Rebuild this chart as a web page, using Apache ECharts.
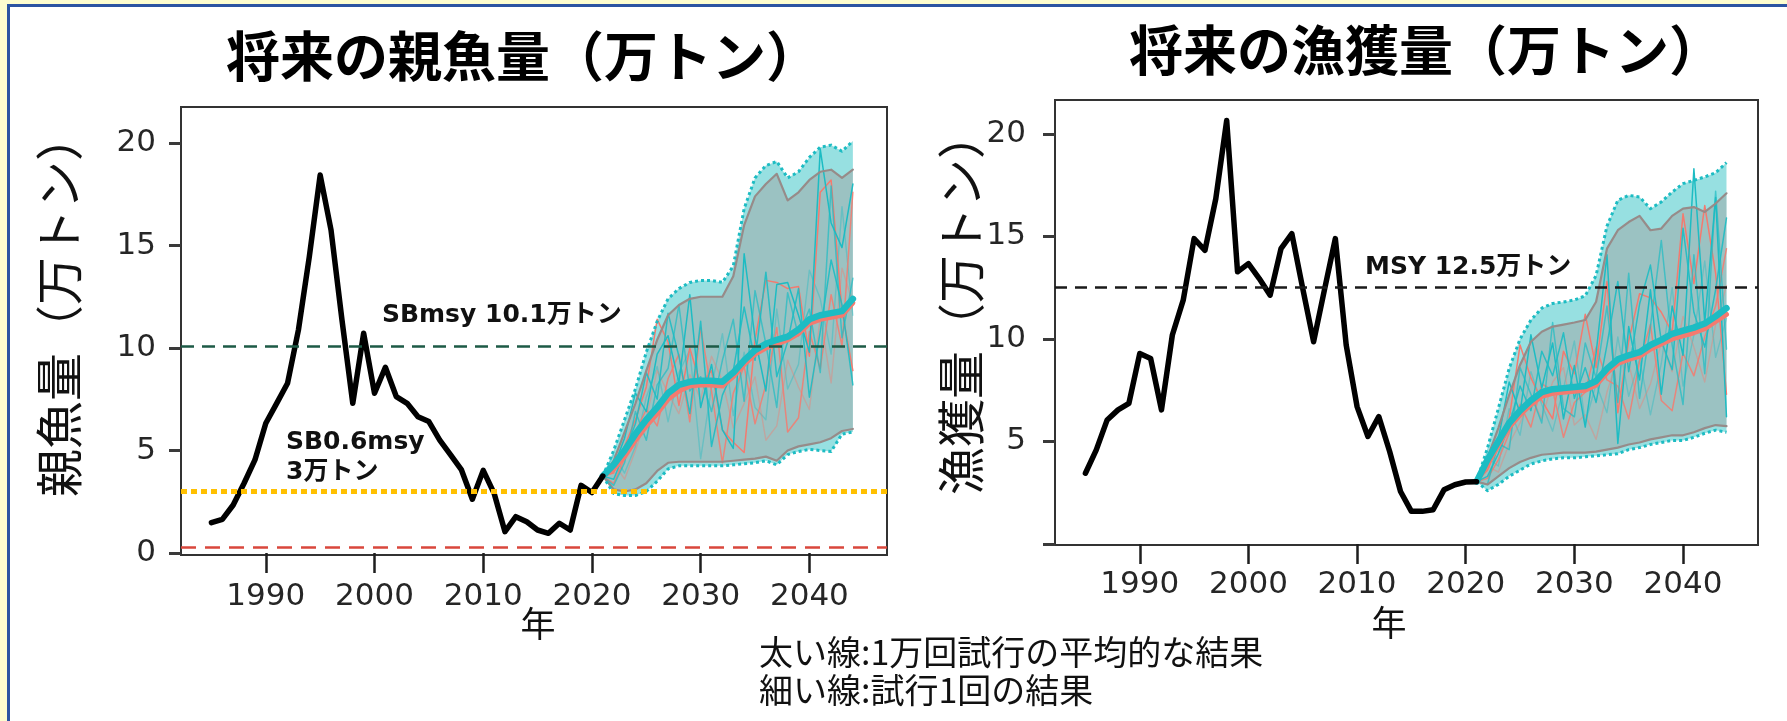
<!DOCTYPE html>
<html>
<head>
<meta charset="utf-8">
<script src="https://cdn.jsdelivr.net/npm/echarts@6/dist/echarts.min.js"></script>
<style>
  html, body { margin: 0; padding: 0; background: #ffffff; }
  #chart { width: 1787px; height: 721px; }
</style>
</head>
<body>
<div id="chart"></div>
<script>
// ---- Years ----
const histYears = [];
for (let y = 1985; y <= 2021; y++) histYears.push(y);
const projYears = [];
for (let y = 2021; y <= 2044; y++) projYears.push(y);
const xTickValues = [1990, 2000, 2010, 2020, 2030, 2040];
const yTickValues = [0, 5, 10, 15, 20];
const yLabelValuesRight = [5, 10, 15, 20];

// ---- Reference points (万トン) ----
const sbMsy = 10.1;
const sbLimit = 3;
const sbBan = 0.3;
const msy = 12.5;

// ---- 親魚量 (spawning biomass), 万トン ----
const sbHist = [1.48, 1.64, 2.34, 3.4, 4.54, 6.33, 7.3, 8.28, 10.88, 14.45, 18.44, 15.76, 11.4, 7.3, 10.72,
  7.79, 9.06, 7.63, 7.3, 6.65, 6.41, 5.51, 4.78, 4.05, 2.62, 4.03, 2.91, 1.04, 1.77, 1.52, 1.12, 0.96,
  1.45, 1.12, 3.3, 2.95, 3.75];
const sbUpperOuter = [3.75, 5.0, 6.5, 8.0, 9.8, 11.3, 12.4, 12.9, 13.2, 13.3, 13.3, 13.2, 14.0, 16.8, 18.3, 18.9, 19.1, 18.3, 18.6, 19.3, 19.8, 19.9, 19.6, 20.1];
const sbUpperInner = [3.75, 4.5, 5.9, 7.3, 8.9, 10.4, 11.6, 12.1, 12.4, 12.5, 12.5, 12.5, 13.5, 16.0, 17.4, 18.0, 18.5, 17.2, 17.6, 18.2, 18.6, 18.7, 18.3, 18.7];
const sbLowerInner = [3.75, 3.1, 3.0, 3.1, 3.4, 4.0, 4.4, 4.45, 4.45, 4.45, 4.45, 4.45, 4.5, 4.55, 4.6, 4.7, 4.5, 5.0, 5.2, 5.3, 5.4, 5.6, 5.95, 6.05];
const sbLowerOuter = [3.75, 2.9, 2.8, 2.8, 3.0, 3.5, 4.1, 4.25, 4.25, 4.25, 4.25, 4.25, 4.3, 4.35, 4.4, 4.5, 4.3, 4.8, 4.95, 5.05, 5.0, 4.95, 5.8, 5.9];
const sbMeanA = [3.75, 4.3, 5.0, 5.8, 6.5, 7.1, 7.8, 8.2, 8.35, 8.4, 8.4, 8.35, 8.8, 9.4, 9.9, 10.2, 10.4, 10.55, 10.9, 11.4, 11.6, 11.7, 11.8, 12.4];
const sbMeanB = [3.75, 4.1, 4.7, 5.5, 6.2, 6.8, 7.5, 7.9, 8.15, 8.2, 8.2, 8.15, 8.6, 9.2, 9.7, 10.0, 10.2, 10.4, 10.7, 11.2, 11.4, 11.5, 11.6, 12.2];
const sbTrialA1 = [3.75, 4.2, 5.6, 7.8, 6.9, 9.7, 10.6, 8.3, 12.6, 7.1, 9.2, 6.0, 5.1, 14.6, 10.5, 7.9, 13.1, 13.2, 11.6, 9.8, 19.7, 16.1, 14.9, 18.0];
const sbTrialA2 = [3.75, 3.6, 4.9, 6.3, 8.8, 7.5, 11.7, 9.6, 6.8, 11.3, 5.2, 7.7, 8.9, 12.0, 9.4, 13.7, 8.6, 10.3, 12.9, 7.6, 10.8, 14.3, 12.1, 8.2];
const sbTrialA3 = [3.75, 4.8, 3.9, 5.2, 7.6, 9.1, 6.4, 8.8, 9.9, 4.6, 8.1, 10.7, 6.7, 9.8, 7.1, 6.5, 11.9, 8.0, 9.2, 13.8, 12.4, 9.7, 16.9, 11.6];
const sbTrialA4 = [3.75, 3.3, 4.4, 6.9, 5.5, 8.2, 9.0, 12.1, 7.9, 8.6, 6.9, 9.4, 11.4, 7.4, 12.8, 10.2, 7.1, 12.7, 10.6, 11.9, 8.8, 17.9, 10.5, 13.4];
const sbTrialB1 = [3.75, 3.9, 5.2, 6.5, 8.1, 11.4, 10.3, 7.2, 10.0, 8.2, 8.9, 6.0, 5.4, 4.9, 10.4, 13.3, 13.2, 12.9, 13.0, 9.6, 17.6, 18.2, 11.8, 8.9];
const sbTrialB2 = [3.75, 3.4, 4.6, 5.9, 7.0, 6.2, 8.5, 9.7, 6.4, 11.0, 7.9, 4.4, 7.8, 9.1, 6.3, 8.2, 11.0, 5.9, 6.6, 10.8, 9.0, 12.6, 10.1, 17.6];
const sbTrialB3 = [3.75, 4.4, 3.6, 5.0, 6.6, 8.9, 7.8, 6.8, 8.7, 7.5, 9.6, 8.4, 6.1, 7.3, 8.6, 5.5, 6.2, 9.4, 8.1, 7.0, 11.5, 8.3, 13.9, 12.2];

// ---- 漁獲量 (catch), 万トン ----
const catchHist = [3.45, 4.59, 6.05, 6.54, 6.86, 9.29, 9.05, 6.54, 10.19, 11.89, 14.89, 14.32, 16.84, 20.65,
  13.27, 13.67, 12.94, 12.13, 14.4, 15.13, 12.46, 9.86, 12.4, 14.89, 9.7, 6.7, 5.24, 6.21, 4.51, 2.56,
  1.59, 1.59, 1.67, 2.64, 2.89, 3.02, 3.04];
const catchUpperOuter = [3.04, 4.67, 6.6, 8.56, 9.99, 10.92, 11.5, 11.73, 11.8, 11.9, 12.1, 13.1, 15.5, 16.76, 17.0, 16.92, 16.35, 16.68, 17.16, 17.57, 17.73, 17.9, 18.1, 18.6];
const catchUpperInner = [3.04, 4.2, 5.65, 7.27, 8.73, 9.86, 10.35, 10.6, 10.7, 10.8, 10.92, 11.81, 14.4, 15.3, 15.7, 16.0, 15.3, 15.38, 16.0, 16.35, 16.43, 16.19, 16.6, 17.1];
const catchLowerInner = [3.04, 2.9, 3.3, 3.7, 4.0, 4.2, 4.35, 4.4, 4.45, 4.45, 4.45, 4.5, 4.6, 4.7, 4.85, 4.95, 5.1, 5.2, 5.3, 5.3, 5.45, 5.65, 5.8, 5.75];
const catchLowerOuter = [3.04, 2.6, 2.9, 3.3, 3.6, 3.9, 4.05, 4.15, 4.2, 4.2, 4.25, 4.3, 4.35, 4.4, 4.6, 4.7, 4.85, 4.95, 5.05, 5.05, 5.2, 5.4, 5.55, 5.45];
const catchMeanA = [3.04, 4.1, 5.0, 5.9, 6.5, 7.0, 7.4, 7.55, 7.6, 7.65, 7.7, 7.95, 8.55, 9.0, 9.2, 9.35, 9.7, 9.95, 10.25, 10.4, 10.55, 10.75, 11.1, 11.5];
const catchMeanB = [3.04, 3.9, 4.8, 5.7, 6.3, 6.8, 7.2, 7.35, 7.4, 7.45, 7.5, 7.75, 8.35, 8.8, 9.0, 9.15, 9.5, 9.75, 10.0, 10.15, 10.3, 10.5, 10.85, 11.2];
const catchTrialA1 = [3.04, 3.9, 5.1, 7.9, 6.4, 10.2, 7.6, 9.8, 6.1, 8.7, 5.7, 9.3, 14.1, 4.9, 10.6, 8.0, 12.4, 7.3, 11.6, 9.2, 18.3, 10.8, 16.9, 6.2];
const catchTrialA2 = [3.04, 3.3, 4.4, 5.8, 7.7, 6.5, 9.4, 8.2, 10.3, 7.1, 8.6, 6.9, 9.7, 12.8, 8.4, 11.7, 13.6, 9.9, 8.5, 15.4, 11.3, 9.6, 12.4, 15.9];
const catchTrialA3 = [3.04, 4.2, 3.8, 6.6, 5.3, 8.4, 6.8, 5.5, 7.6, 9.9, 5.9, 7.8, 6.4, 10.1, 7.2, 9.0, 6.3, 8.8, 12.5, 7.7, 10.2, 13.8, 9.1, 11.0];
const catchTrialA4 = [3.04, 2.9, 4.9, 4.6, 8.6, 7.3, 5.9, 10.8, 6.6, 6.2, 9.8, 8.1, 11.6, 6.9, 13.2, 7.1, 10.6, 14.8, 9.7, 6.8, 14.1, 8.3, 17.2, 9.5];
const catchTrialB1 = [3.04, 3.6, 4.8, 6.1, 9.7, 8.1, 7.0, 6.1, 9.4, 8.3, 11.2, 8.6, 12.8, 6.4, 9.9, 12.2, 12.0, 11.3, 10.3, 16.1, 12.7, 16.5, 13.2, 7.3];
const catchTrialB2 = [3.04, 3.2, 4.1, 5.4, 6.8, 5.7, 7.8, 7.5, 5.2, 6.9, 7.4, 9.6, 8.0, 7.7, 6.1, 8.9, 10.7, 7.0, 6.5, 9.3, 8.2, 10.1, 11.6, 14.4];
const catchTrialB3 = [3.04, 3.8, 3.5, 4.9, 5.9, 7.2, 6.1, 7.9, 8.6, 5.8, 6.3, 5.1, 7.4, 9.1, 8.8, 6.6, 7.8, 9.8, 8.4, 11.1, 9.6, 7.9, 10.7, 12.6];

// ---- Colours & fonts ----
const TEAL = '#1dbcc3';
const SALMON = '#f47a6f';
const OUTER_FILL = '#97e0e1';
const INNER_FILL = 'rgba(162,152,152,0.42)';
const EDGE_GREY = '#978b89';
const TICK_FONT = "'DejaVu Sans', sans-serif";
const JP_FONT = "'Noto Sans CJK JP', sans-serif";
const LATIN_BOLD = "'DejaVu Sans', 'Noto Sans CJK JP', sans-serif";

function pairs(xs, ys) { return xs.map((x, i) => [x, ys[i]]); }

// filled band between two bounds, drawn as one polygon through the axis scales
function band(idx, lo, hi, fill) {
  return {
    type: 'custom', xAxisIndex: idx, yAxisIndex: idx, silent: true, clip: true,
    data: projYears.map((y, i) => [y, lo[i], hi[i]]),
    encode: { x: 0, y: [1, 2] },
    renderItem: (params, api) => {
      if (params.dataIndex !== 0) return null;
      const top = projYears.map((y, i) => api.coord([y, hi[i]]));
      const bot = projYears.map((y, i) => api.coord([y, lo[i]])).reverse();
      return { type: 'polygon', shape: { points: top.concat(bot) }, style: { fill: fill } };
    }
  };
}

function line(idx, xs, ys, style, extra) {
  return Object.assign({
    type: 'line', xAxisIndex: idx, yAxisIndex: idx, silent: true,
    data: pairs(xs, ys), showSymbol: false, symbol: 'none',
    lineStyle: Object.assign({ join: 'round', cap: 'round' }, style)
  }, extra || {});
}

function refLine(value, color, width, dash) {
  return { yAxis: value, lineStyle: { color: color, width: width, type: dash, cap: 'butt' } };
}

function panelSeries(idx, d) {
  return [
    band(idx, d.lo1, d.hi1, OUTER_FILL),
    line(idx, projYears, d.a3, { color: TEAL, width: 1.4, opacity: 0.4 }),
    line(idx, projYears, d.b3, { color: SALMON, width: 1.4, opacity: 0.4 }),
    band(idx, d.lo2, d.hi2, INNER_FILL),
    line(idx, projYears, d.b1, { color: SALMON, width: 1.5 }),
    line(idx, projYears, d.b2, { color: SALMON, width: 1.5, opacity: 0.85 }),
    line(idx, projYears, d.a1, { color: TEAL, width: 1.5 }),
    line(idx, projYears, d.a2, { color: TEAL, width: 1.5, opacity: 0.9 }),
    line(idx, projYears, d.a4, { color: TEAL, width: 1.5, opacity: 0.7 }),
    line(idx, projYears, d.hi2, { color: EDGE_GREY, width: 2.2 }),
    line(idx, projYears, d.lo2, { color: EDGE_GREY, width: 2.2 }),
    line(idx, projYears, d.hi1, { color: TEAL, width: 3, type: [3, 3], cap: 'butt' }),
    line(idx, projYears, d.lo1, { color: TEAL, width: 3, type: [3, 3], cap: 'butt' }),
    line(idx, projYears, d.meanB, { color: SALMON, width: 5 }),
    line(idx, projYears, d.meanA, { color: TEAL, width: 6.5 }),
    line(idx, histYears, d.hist, { color: '#000000', width: 5.5 }, {
      markLine: { silent: true, symbol: 'none', label: { show: false }, animation: false, data: d.refs }
    })
  ];
}

const plain = v => String(v);

const xAxisBase = {
  type: 'value', min: 1982.2, splitLine: { show: false },
  axisLine: { show: false },
  axisTick: { show: true, length: 20, lineStyle: { color: '#1e1e1e', width: 2.5 }, customValues: xTickValues },
  axisLabel: { margin: 26, fontSize: 31, color: '#262626', fontFamily: TICK_FONT, customValues: xTickValues, formatter: plain }
};

const yAxisBase = {
  type: 'value', splitLine: { show: false },
  axisLine: { show: false },
  axisTick: { show: true, length: 12, lineStyle: { color: '#3a3a3a', width: 3 }, customValues: yTickValues }
};

const option = {
  animation: false,
  backgroundColor: '#ffffff',
  grid: [
    { left: 181, top: 107, width: 706, height: 448, show: true, borderColor: '#333333', borderWidth: 2, backgroundColor: 'transparent', containLabel: false, outerBoundsMode: 'none' },
    { left: 1055, top: 100, width: 703, height: 445, show: true, borderColor: '#333333', borderWidth: 2, backgroundColor: 'transparent', containLabel: false, outerBoundsMode: 'none' }
  ],
  xAxis: [
    Object.assign({}, xAxisBase, { gridIndex: 0, max: 2047.14 }),
    Object.assign({}, xAxisBase, { gridIndex: 1, max: 2046.9, axisLabel: Object.assign({}, xAxisBase.axisLabel, { margin: 24 }) })
  ],
  yAxis: [
    Object.assign({}, yAxisBase, {
      gridIndex: 0, min: -0.1, max: 21.76,
      axisLabel: { margin: 25, fontSize: 31, color: '#262626', fontFamily: TICK_FONT, customValues: yTickValues, formatter: plain }
    }),
    Object.assign({}, yAxisBase, {
      gridIndex: 1, min: -0.05, max: 21.65,
      axisLabel: { margin: 29, fontSize: 31, color: '#262626', fontFamily: TICK_FONT, customValues: yLabelValuesRight, formatter: plain }
    })
  ],
  series: [].concat(
    panelSeries(0, {
      lo1: sbLowerOuter, hi1: sbUpperOuter, lo2: sbLowerInner, hi2: sbUpperInner,
      a1: sbTrialA1, a2: sbTrialA2, a3: sbTrialA3, a4: sbTrialA4,
      b1: sbTrialB1, b2: sbTrialB2, b3: sbTrialB3,
      meanA: sbMeanA, meanB: sbMeanB, hist: sbHist,
      refs: [
        refLine(sbMsy, '#1d5a46', 2.5, [13, 8]),
        refLine(sbLimit, '#ffc000', 5, [6, 4]),
        refLine(sbBan, '#d9473c', 2.5, [15, 9])
      ]
    }),
    panelSeries(1, {
      lo1: catchLowerOuter, hi1: catchUpperOuter, lo2: catchLowerInner, hi2: catchUpperInner,
      a1: catchTrialA1, a2: catchTrialA2, a3: catchTrialA3, a4: catchTrialA4,
      b1: catchTrialB1, b2: catchTrialB2, b3: catchTrialB3,
      meanA: catchMeanA, meanB: catchMeanB, hist: catchHist,
      refs: [refLine(msy, '#1a1a1a', 2.5, [12, 8])]
    })
  ),
  graphic: [
    // page frame
    { type: 'rect', shape: { x: 0, y: 0, width: 1787, height: 4 }, style: { fill: '#fdfdcf' }, silent: true },
    { type: 'rect', shape: { x: 0, y: 0, width: 7, height: 721 }, style: { fill: '#fdfdcf' }, silent: true },
    { type: 'rect', shape: { x: 7, y: 4, width: 1780, height: 3 }, style: { fill: '#2c54a2' }, silent: true },
    { type: 'rect', shape: { x: 7, y: 4, width: 3, height: 717 }, style: { fill: '#2c54a2' }, silent: true },
    // titles
    { type: 'text', x: 523, y: 56, silent: true, style: { text: '将来の親魚量（万トン）', font: 'bold 54px ' + JP_FONT, fill: '#000', textAlign: 'center', textVerticalAlign: 'middle' } },
    { type: 'text', x: 1426, y: 50, silent: true, style: { text: '将来の漁獲量（万トン）', font: 'bold 54px ' + JP_FONT, fill: '#000', textAlign: 'center', textVerticalAlign: 'middle' } },
    // axis names
    { type: 'text', x: 59, y: 305, rotation: Math.PI / 2, silent: true, style: { text: '親魚量（万トン）', font: '48px ' + JP_FONT, fill: '#111', textAlign: 'center', textVerticalAlign: 'middle' } },
    { type: 'text', x: 961, y: 303, rotation: Math.PI / 2, silent: true, style: { text: '漁獲量（万トン）', font: '48px ' + JP_FONT, fill: '#111', textAlign: 'center', textVerticalAlign: 'middle' } },
    { type: 'text', x: 538, y: 624, silent: true, style: { text: '年', font: '35px ' + JP_FONT, fill: '#111', textAlign: 'center', textVerticalAlign: 'middle' } },
    { type: 'text', x: 1389, y: 623, silent: true, style: { text: '年', font: '35px ' + JP_FONT, fill: '#111', textAlign: 'center', textVerticalAlign: 'middle' } },
    // reference point labels
    { type: 'text', x: 382, y: 315, silent: true, style: { text: 'SBmsy ' + sbMsy + '万トン', font: 'bold 25px ' + LATIN_BOLD, fill: '#111', textAlign: 'left', textVerticalAlign: 'middle' } },
    { type: 'text', x: 286, y: 442, silent: true, style: { text: 'SB0.6msy', font: 'bold 25px ' + LATIN_BOLD, fill: '#111', textAlign: 'left', textVerticalAlign: 'middle' } },
    { type: 'text', x: 286, y: 472, silent: true, style: { text: sbLimit + '万トン', font: 'bold 25px ' + LATIN_BOLD, fill: '#111', textAlign: 'left', textVerticalAlign: 'middle' } },
    { type: 'text', x: 1365, y: 267, silent: true, style: { text: 'MSY ' + msy + '万トン', font: 'bold 25px ' + LATIN_BOLD, fill: '#111', textAlign: 'left', textVerticalAlign: 'middle' } },
    // notes
    { type: 'text', x: 759, y: 652, silent: true, style: { text: '太い線:1万回試行の平均的な結果', font: '34px ' + JP_FONT, fill: '#111', textAlign: 'left', textVerticalAlign: 'middle' } },
    { type: 'text', x: 759, y: 690, silent: true, style: { text: '細い線:試行1回の結果', font: '34px ' + JP_FONT, fill: '#111', textAlign: 'left', textVerticalAlign: 'middle' } }
  ]
};

const chart = echarts.init(document.getElementById('chart'), null, { renderer: 'canvas' });
chart.setOption(option);
</script>
</body>
</html>
